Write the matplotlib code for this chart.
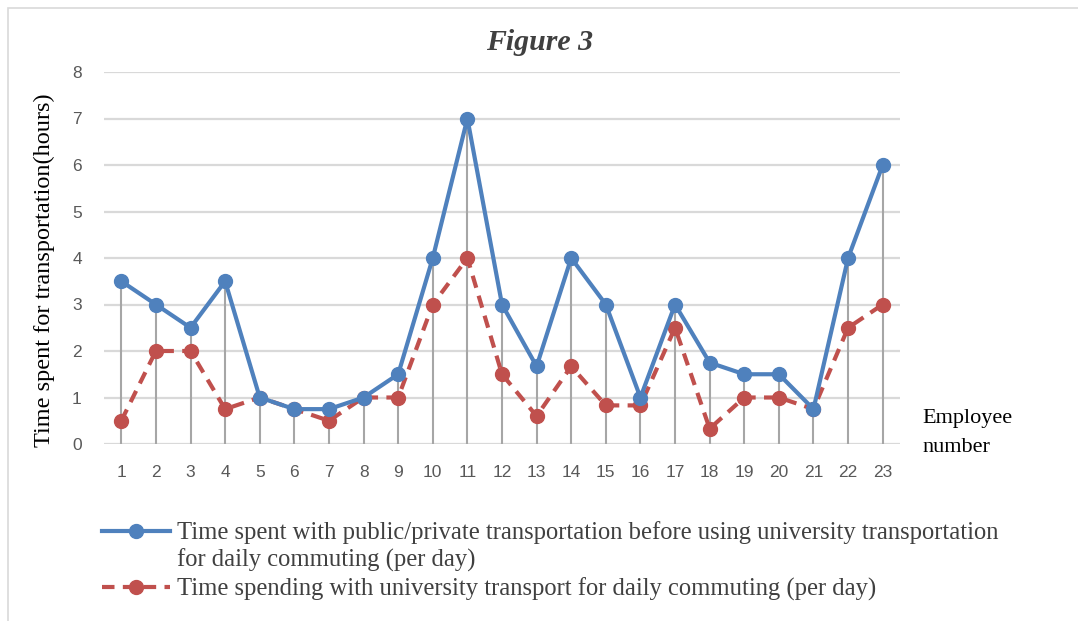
import matplotlib
matplotlib.use("Agg")
import matplotlib.pyplot as plt
from matplotlib.lines import Line2D
from matplotlib.patches import Rectangle
import numpy as np

employees = list(range(1, 24))
before_univ = [3.5, 3, 2.5, 3.5, 1, 0.75, 0.75, 1, 1.5, 4, 7, 3, 1.67, 4, 3, 1, 3, 1.75, 1.5, 1.5, 0.75, 4, 6]
with_univ = [0.5, 2, 2, 0.75, 1, 0.75, 0.5, 1, 1, 3, 4, 1.5, 0.6, 1.67, 0.83, 0.83, 2.5, 0.33, 1, 1, 0.75, 2.5, 3]
yticks = [0, 1, 2, 3, 4, 5, 6, 7, 8]

title = "Figure 3"
ylabel = "Time spent for transportation(hours)"
xlabel = "Employee\nnumber"
label_before = "Time spent with public/private transportation before using university transportation"
label_before2 = "for daily commuting (per day)"
label_with = "Time spending with university transport for daily commuting (per day)"

BLUE = "#4F81BD"
RED = "#C0504D"
GRID = "#D9D9D9"
DROP = "#A6A6A6"
TICK = "#595959"
SERIF = "Liberation Serif"

fig = plt.figure(figsize=(10.78, 6.21), dpi=100)
fig.add_artist(Rectangle((8/1078, -0.1), 1.2, 1 - 8/621 + 0.1, transform=fig.transFigure,
                         fill=False, edgecolor="#D9D9D9", linewidth=1.2))

ax = fig.add_axes([104/1078, 1 - 444/621, (900-104)/1078, (444-72)/621])
ax.set_xlim(0.5, 23.5)
ax.set_ylim(0, 8)
ax.set_yticks(yticks)
ax.set_xticks(employees)
for s in ax.spines.values():
    s.set_visible(False)
ax.yaxis.grid(True, color=GRID, linewidth=1.6)
ax.set_axisbelow(True)
ax.tick_params(axis="both", length=0, labelsize=12.5, labelcolor=TICK)
ax.tick_params(axis="x", pad=15)
ax.tick_params(axis="y", pad=16)
for lab in ax.get_xticklabels() + ax.get_yticklabels():
    lab.set_fontfamily("Liberation Sans")

x = np.array(employees)
tops = np.maximum(before_univ, with_univ)
ax.vlines(x, 0, tops, color=DROP, linewidth=1.5, zorder=2)

ax.plot(x, with_univ, color=RED, linewidth=3, linestyle=(0, (3, 2)), marker="o",
        markersize=10, zorder=3)
ax.plot(x, before_univ, color=BLUE, linewidth=3, marker="o", markersize=10, zorder=4)

fig.text(540/1078, 1 - 43/621, title, ha="center", va="center", fontsize=21.5,
         fontweight="bold", fontstyle="italic", family=SERIF, color="#404040")
fig.text(44/1078, 1 - 270/621, ylabel, ha="center", va="center", rotation=90,
         fontsize=17.5, family=SERIF, color="black")
fig.text(922/1078, 1 - 433/621, xlabel, ha="left", va="center", fontsize=16,
         family=SERIF, color="black", linespacing=1.75)

h1 = Line2D([], [], color=BLUE, linewidth=3, marker="o", markersize=10)
h2 = Line2D([], [], color="none")
h3 = Line2D([], [], color=RED, linewidth=3, linestyle=(0, (3, 2)), marker="o", markersize=10)
fig.legend([h1, h2, h3], [label_before, label_before2, label_with],
           loc="upper left", bbox_to_anchor=(80/1078, 1 - 499/621),
           frameon=False, handlelength=2.75, handletextpad=0.3, labelspacing=0.2,
           prop={"family": SERIF, "size": 17.7}, labelcolor="#404040")

fig.savefig("out.png", dpi=100)
